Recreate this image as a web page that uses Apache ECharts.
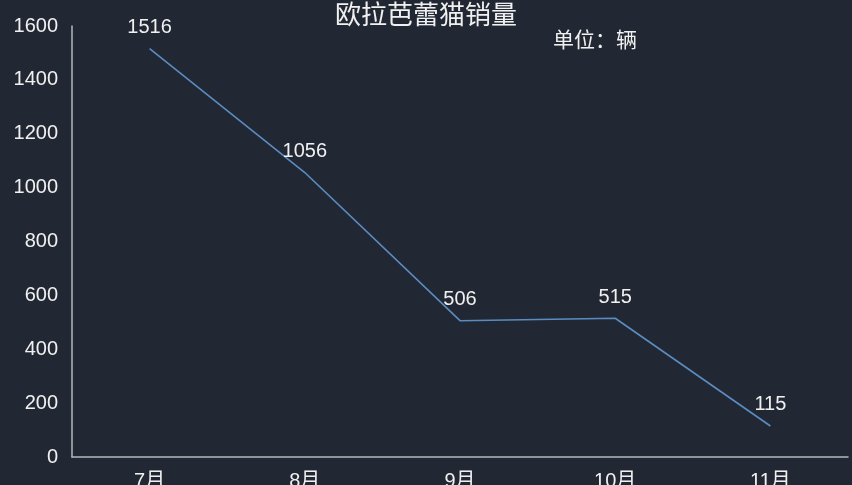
<!DOCTYPE html>
<html>
<head>
<meta charset="utf-8">
<script src="https://cdn.jsdelivr.net/npm/echarts@6/dist/echarts.min.js"></script>
<style>
html,body{margin:0;padding:0;background:#222833;}
#container{width:852px;height:485px;}
</style>
</head>
<body>
<div id="container"></div>
<script type="text/javascript">
// 月份与销量
var months = ['7月', '8月', '9月', '10月', '11月'];
var sales = [1516, 1056, 506, 515, 115];
var yTicks = [0, 200, 400, 600, 800, 1000, 1200, 1400, 1600];

var fontFam = 'Liberation Sans, Noto Sans CJK SC, sans-serif';
var myChart = echarts.init(document.getElementById('container'));
var option = {
    backgroundColor: '#222833',
    animation: false,
    title: [{
        text: '欧拉芭蕾猫销量',
        left: 'center',
        top: -1,
        textStyle: {color: '#f0f0f0', fontSize: 26, fontWeight: 'normal', fontFamily: fontFam}
    }, {
        text: '单位：辆',
        left: 548,
        top: 26,
        textStyle: {color: '#f0f0f0', fontSize: 21, fontWeight: 'normal', fontFamily: fontFam}
    }],
    grid: {left: 72, right: 4, top: 26, bottom: 28, outerBoundsMode: 'none', containLabel: false},
    xAxis: {
        type: 'category',
        data: months,
        boundaryGap: true,
        axisLine: {lineStyle: {color: '#b4b8bf', width: 1.5}},
        axisTick: {show: false},
        axisLabel: {color: '#f0f0f0', fontSize: 20, margin: 14, fontFamily: fontFam}
    },
    yAxis: {
        type: 'value',
        min: yTicks[0],
        max: yTicks[yTicks.length - 1],
        interval: yTicks[1] - yTicks[0],
        axisLine: {show: true, lineStyle: {color: '#b4b8bf', width: 1.5}},
        axisTick: {show: false},
        splitLine: {show: false},
        axisLabel: {
            color: '#f0f0f0', fontSize: 20, margin: 14, fontFamily: fontFam,
            formatter: function (v) { return String(v); }
        }
    },
    series: [{
        type: 'line',
        data: sales,
        symbol: 'circle',
        symbolSize: 0.1,
        showSymbol: true,
        lineStyle: {color: '#5a8cc2', width: 1.6},
        itemStyle: {color: '#5a8cc2'},
        label: {
            show: true,
            position: 'top',
            distance: 11,
            color: '#f0f0f0',
            fontSize: 20,
            fontFamily: fontFam
        }
    }]
};
myChart.setOption(option);
</script>
</body>
</html>
